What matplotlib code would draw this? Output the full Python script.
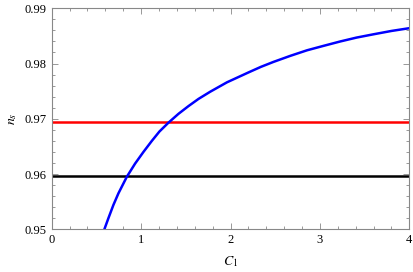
import numpy as np
import matplotlib.pyplot as plt
from matplotlib.ticker import MultipleLocator

# blue curve n_s(C_1)
c1 = [0.589, 0.634, 0.690, 0.746, 0.840, 0.933, 1.026, 1.120, 1.205, 1.306,
      1.418, 1.530, 1.642, 1.773, 1.960, 2.202, 2.340, 2.481, 2.670, 2.856,
      3.040, 3.228, 3.410, 3.601, 3.800, 4.0]
ns = [0.9500, 0.9520, 0.9544, 0.9565, 0.9595, 0.9619, 0.9640, 0.9660, 0.9677, 0.9693,
      0.9709, 0.9723, 0.9736, 0.9749, 0.9766, 0.9784, 0.9794, 0.9803, 0.9814, 0.9824,
      0.9832, 0.9840, 0.9847, 0.9853, 0.9859, 0.9864]

ns_upper = 0.9694
ns_lower = 0.9596

plt.rcParams['font.family'] = ['Liberation Serif', 'DejaVu Serif']
plt.rcParams['mathtext.fontset'] = 'stix'

fig = plt.figure(figsize=(4.14, 2.72), dpi=100)
ax = fig.add_axes([0.1249, 0.157, 0.8638, 0.8125])

ax.axhline(ns_upper, color='#ff0000', linewidth=1.8)
ax.axhline(ns_lower, color='black', linewidth=1.8)
ax.plot(c1, ns, color='#0000ff', linewidth=1.8, solid_joinstyle='round')

ax.set_xlim(0, 4)
ax.set_ylim(0.95, 0.99)
ax.xaxis.set_major_locator(MultipleLocator(1))
ax.xaxis.set_minor_locator(MultipleLocator(0.2))
ax.yaxis.set_major_locator(MultipleLocator(0.01))
ax.yaxis.set_minor_locator(MultipleLocator(0.002))
ax.yaxis.set_major_formatter(plt.FuncFormatter(lambda v, p: '%.2f' % v))

for s in ax.spines.values():
    s.set_color('#888888')
    s.set_linewidth(0.8)
ax.tick_params(which='both', direction='in', top=True, right=True,
               color='#888888', labelsize=9, width=0.6)
ax.tick_params(which='major', length=4)
ax.tick_params(which='minor', length=2)

ax.set_xlabel(r'$C_1$', fontsize=10, labelpad=6)
ax.set_ylabel(r'$n_s$', fontsize=10, labelpad=4)

plt.savefig("out.png", dpi=100)
